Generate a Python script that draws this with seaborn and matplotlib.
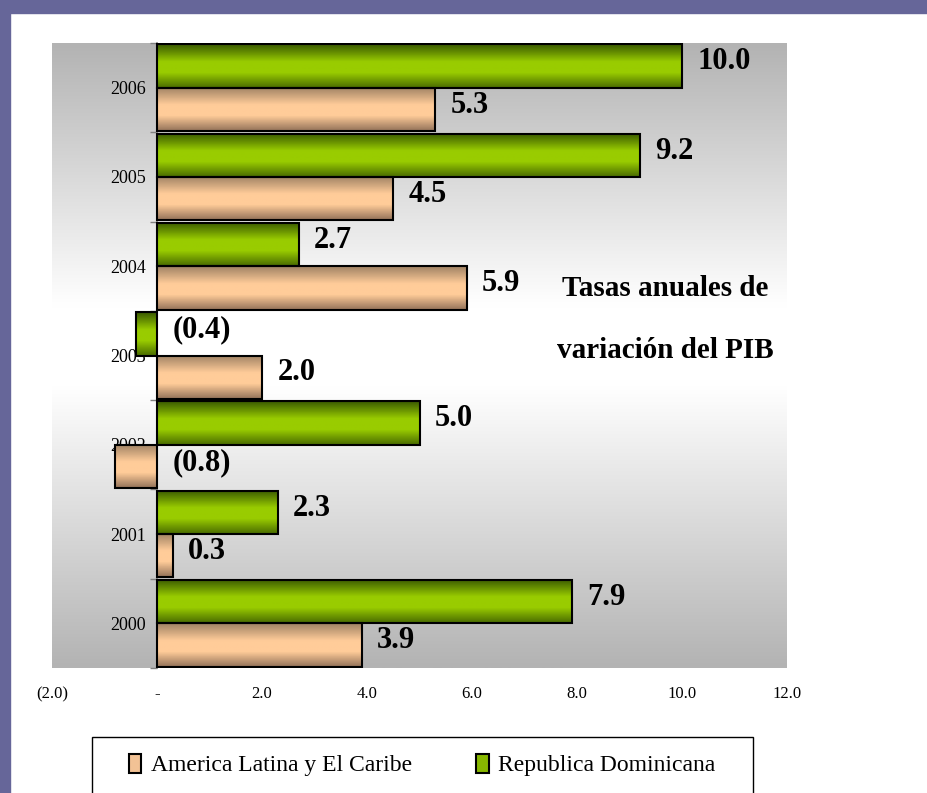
import numpy as np
import pandas as pd
import matplotlib
matplotlib.use("Agg")
import matplotlib.pyplot as plt
from matplotlib.colors import LinearSegmentedColormap
from matplotlib.patches import Rectangle, Patch
import seaborn as sns

sns.set_theme(style="white")
plt.rcParams['font.family'] = ['Liberation Serif', 'DejaVu Serif']
plt.rcParams['text.color'] = 'black'

# Data
years = ['2006', '2005', '2004', '2003', '2002', '2001', '2000']
rep_dominicana = [10.0, 9.2, 2.7, -0.4, 5.0, 2.3, 7.9]
america_latina = [5.3, 4.5, 5.9, 2.0, -0.8, 0.3, 3.9]
series_names = ['Republica Dominicana', 'America Latina y El Caribe']
x_ticks = [-2, 0, 2, 4, 6, 8, 10, 12]
x_tick_labels = ['(2.0)', '-', '2.0', '4.0', '6.0', '8.0', '10.0', '12.0']
title_lines = ['Tasas anuales de', 'variación del PIB']

df = pd.DataFrame({
    'year': years * 2,
    'value': rep_dominicana + america_latina,
    'series': [series_names[0]] * len(years) + [series_names[1]] * len(years),
})

fig = plt.figure(figsize=(9.27, 7.93), dpi=100)
fig.patch.set_facecolor('white')
# purple frame on top and left
fig.patches.append(Rectangle((0, 1 - 13 / 793), 1, 13 / 793, transform=fig.transFigure,
                             color='#666699', zorder=0))
fig.patches.append(Rectangle((0, 0), 10 / 927, 1, transform=fig.transFigure,
                             color='#666699', zorder=0))

ax = fig.add_axes([52 / 927, 1 - 668 / 793, 735 / 927, 625 / 793])

sns.barplot(data=df, y='year', x='value', hue='series', order=years,
            hue_order=series_names, orient='h', width=0.97, dodge=True,
            edgecolor='black', linewidth=1.5, legend=False, ax=ax)

# background gradient: gray -> white -> gray
bg_cmap = LinearSegmentedColormap.from_list(
    'bg', [(0, '#b3b3b3'), (0.42, '#ffffff'), (0.55, '#ffffff'), (1, '#b3b3b3')])
ax.patch.set_visible(False)
ax.imshow(np.linspace(0, 1, 256).reshape(-1, 1), cmap=bg_cmap, aspect='auto',
          extent=[0, 1, 0, 1], transform=ax.transAxes, zorder=0, origin='upper')

green_cmap = LinearSegmentedColormap.from_list(
    'green', [(0, '#3a5a00'), (0.4, '#99cc00'), (0.65, '#99cc00'), (1, '#4a6c00')])
tan_cmap = LinearSegmentedColormap.from_list(
    'tan', [(0, '#a08264'), (0.4, '#ffcc99'), (0.65, '#ffcc99'), (1, '#94735a')])

grad = np.linspace(0, 1, 64).reshape(-1, 1)
for container, cmap, values in zip(ax.containers, [green_cmap, tan_cmap],
                                   [rep_dominicana, america_latina]):
    for p, v in zip(container.patches, values):
        x0, x1 = sorted([p.get_x(), p.get_x() + p.get_width()])
        y0 = p.get_y()
        y1 = y0 + p.get_height()
        im = ax.imshow(grad, cmap=cmap, aspect='auto', extent=[x0, x1, y1, y0],
                       origin='upper', zorder=1.5)
        im.set_clip_path(p)
        p.set_facecolor('none')
        p.set_zorder(2)
        label = f'({abs(v):.1f})' if v < 0 else f'{v:.1f}'
        ax.annotate(label, xy=(max(v, 0), y0 + p.get_height() / 2),
                    xytext=(11, 3), textcoords='offset points', ha='left', va='center',
                    fontsize=22, fontweight='bold', color='black', zorder=3)

ax.set_xlim(-2, 12)
ax.set_ylim(len(years) - 0.5, -0.5)

for s in ['top', 'right', 'bottom']:
    ax.spines[s].set_visible(False)
ax.spines['left'].set_position(('data', 0))
ax.spines['left'].set_color('#808080')
ax.spines['left'].set_linewidth(1.2)
ax.spines['left'].set_zorder(1.8)

ax.set_xticks(x_ticks)
ax.set_xticklabels(x_tick_labels)
ax.tick_params(axis='x', length=0, pad=13, labelsize=12, labelcolor='black')
ax.set_yticks(np.arange(-0.5, len(years), 1), minor=True)
ax.tick_params(axis='y', which='major', length=0, pad=8, labelsize=13, labelcolor='black')
ax.tick_params(axis='y', which='minor', left=True, length=5, width=1, color='#808080')
ax.set_xlabel('')
ax.set_ylabel('')
ax.grid(False)

for line, ypix in zip(title_lines, [288, 350]):
    fig.text(665 / 927, 1 - ypix / 793, line, ha='center', va='center',
             fontsize=21, fontweight='bold', color='black')

# legend box (runs off the bottom edge like the original)
fig.patches.append(Rectangle((92 / 927, -0.02), 661 / 927, 0.02 + 1 - 737 / 793,
                             transform=fig.transFigure, facecolor='white',
                             edgecolor='black', linewidth=1.0, zorder=1))
handles = [Patch(facecolor='#f2c295', edgecolor='black', linewidth=1.5),
           Patch(facecolor='#88b800', edgecolor='black', linewidth=1.5)]
leg = fig.legend(handles, [series_names[1], series_names[0]], loc='upper center',
                 bbox_to_anchor=(422 / 927, 1 - 737 / 793), ncol=2, fontsize=17,
                 frameon=False, borderpad=0.7,
                 handlelength=0.55, handleheight=0.9, handletextpad=0.4,
                 columnspacing=2.7, borderaxespad=0)
leg.set_zorder(2)
for t in leg.get_texts():
    t.set_color('black')

fig.savefig('out.png', dpi=100)
